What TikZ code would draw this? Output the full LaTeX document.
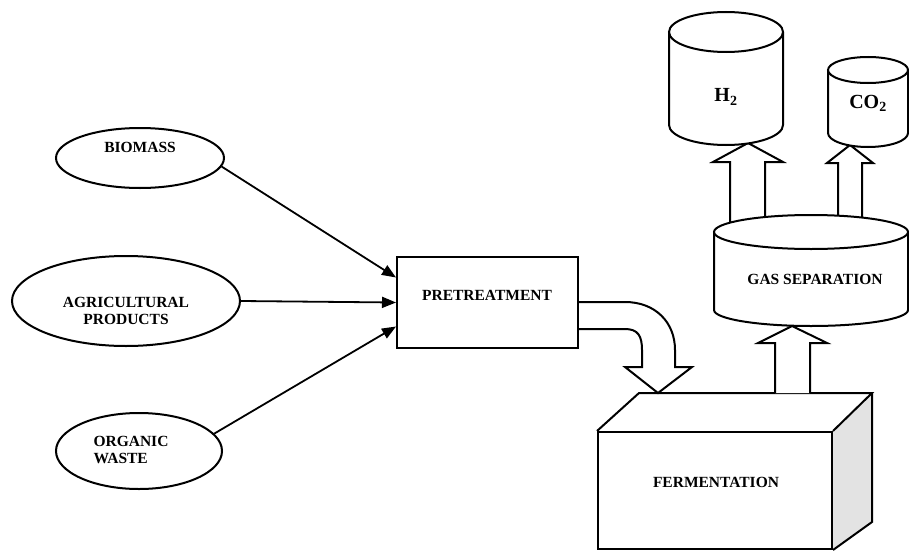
\documentclass[tikz,border=0pt]{standalone}
\usepackage{fontspec}
\setmainfont{Liberation Serif}
\usetikzlibrary{shapes.geometric,arrows.meta}
\begin{document}
\begin{tikzpicture}[x=1pt,y=-1pt,line width=2pt,line join=miter,
  lbl/.style={font=\bfseries\fontsize{15.5}{17}\selectfont,align=center,inner sep=0pt},
  biglbl/.style={font=\bfseries\fontsize{20}{22}\selectfont,inner sep=0pt},
  src/.style={ellipse,draw,inner sep=0pt,line width=2pt},
  boxnode/.style={draw,inner sep=0pt,line width=2pt},
  conn/.style={-{Triangle[length=14pt,width=11pt]},line width=1.8pt},
  blockarrow/.style={draw,fill=white,line width=2pt},
  tank/.style={draw,fill=white,line width=2pt}]
\useasboundingbox (0,0) rectangle (909,551);

% source ellipses
\node[src,minimum width=168pt,minimum height=60pt] (bio) at (140,158) {};
\node[src,minimum width=228pt,minimum height=90pt] (agri) at (126,301) {};
\node[src,minimum width=166pt,minimum height=76pt] (org) at (139,451) {};
\node[lbl] (tbio) at (140,147) {BIOMASS};
\node[lbl] (tagri) at (126,311) {AGRICULTURAL\\PRODUCTS};
\node[lbl,align=left] (torg) at (131,450) {ORGANIC\\WASTE};

% curved block arrow pretreatment -> fermentation (drawn first, pretreatment box on top)
\draw[blockarrow] (570,302) -- (625,302) .. controls (655,302) and (675,322) .. (675,350)
  -- (675,367) -- (692,367) -- (658,393) -- (625,367) -- (642,367) -- (642,350)
  .. controls (642,336) and (638,329) .. (625,329) -- (570,329);

% pretreatment
\node[boxnode,fill=white,minimum width=181pt,minimum height=91pt] (pre) at (487.5,302.5) {};
\node[lbl] (tpre) at (487,295) {PRETREATMENT};

\draw[conn] (bio.-6.5) -- ([yshift=25pt]pre.west);
\draw[conn] (agri.east) -- (pre.west);
\draw[conn] (org.13) -- ([yshift=-24pt]pre.west);

% fermentation box
\fill[gray!22] (832,432) -- (872,393) -- (872,522) -- (832,549) -- cycle;
\node[boxnode,minimum width=234pt,minimum height=117pt] (fer) at (715,490.5) {};
\draw (fer.north west) -- (639,393) -- (872,393) -- (fer.north east);
\draw (872,393) -- (872,522) -- (fer.south east);
\node[lbl] (tfer) at (716,482) {FERMENTATION};

% block arrow fermentation -> gas separation
\draw[blockarrow] (775,393) -- (775,343) -- (758,343) -- (792,326) -- (827,343) -- (810,343) -- (810,393);

% block arrows gas separation -> H2, CO2
\draw[blockarrow] (730,226) -- (730,162) -- (713,162) -- (748,143) -- (783,162) -- (765,162) -- (765,226);
\draw[blockarrow] (838,226) -- (838,163) -- (827,163) -- (850,145) -- (873,163) -- (862,163) -- (862,226);

% gas separation tank
\path[tank] (714,232) -- (714,310) arc[start angle=180,end angle=0,x radius=97,y radius=16] -- (908,232);
\draw[tank] (811,232) ellipse[x radius=97,y radius=17];
\node[lbl] (tgas) at (815,279) {GAS SEPARATION};

% H2 tank
\path[tank] (669,32) -- (669,125) arc[start angle=180,end angle=0,x radius=57,y radius=20] -- (783,32);
\draw[tank] (726,32) ellipse[x radius=57,y radius=20];
\node[biglbl] (th2) at (726,97) {H\textsubscript{2}};

% CO2 tank
\path[tank] (828,70) -- (828,133) arc[start angle=180,end angle=0,x radius=40,y radius=14] -- (908,70);
\draw[tank] (868,70) ellipse[x radius=40,y radius=13];
\node[biglbl] (tco2) at (868,103) {CO\textsubscript{2}};
\end{tikzpicture}
\end{document}
